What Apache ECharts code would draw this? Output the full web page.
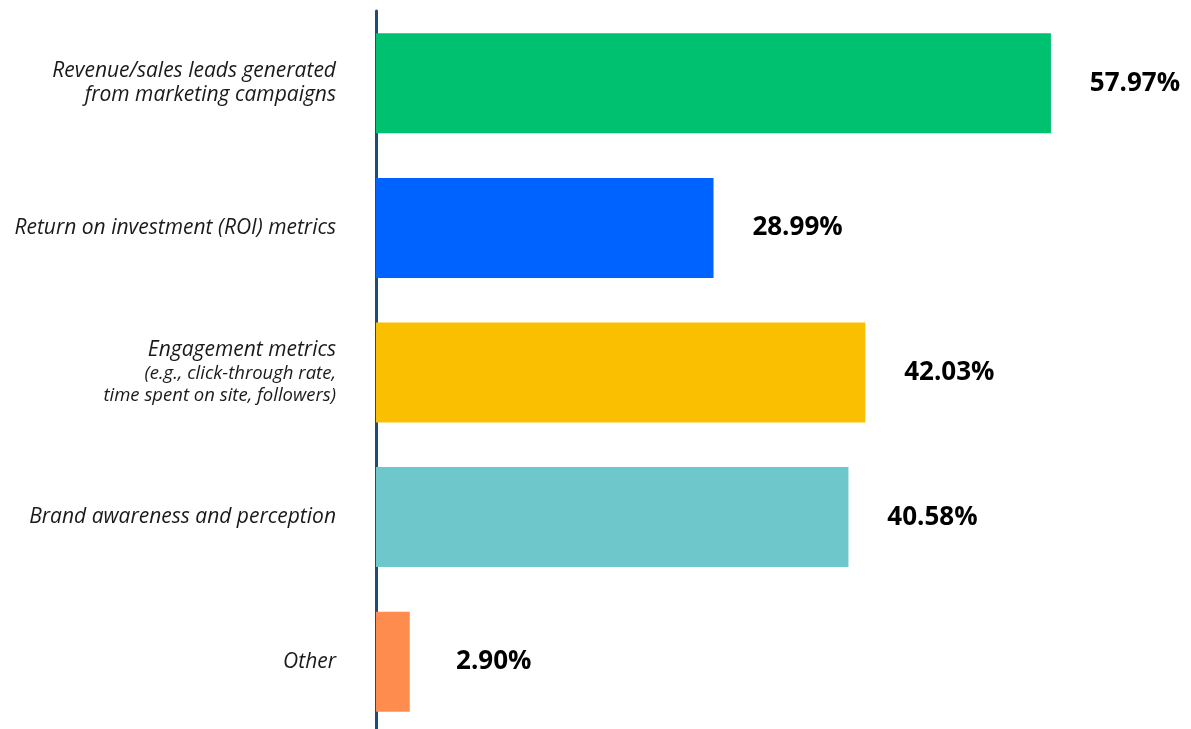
<!DOCTYPE html>
<html>
<head>
<meta charset="utf-8">
<script src="https://cdn.jsdelivr.net/npm/echarts@6/dist/echarts.min.js"></script>
<style>
  html, body { margin: 0; padding: 0; background: #fff; }
  #chart { width: 1191px; height: 729px; }
</style>
</head>
<body>
<div id="chart"></div>
<script>
// Survey answers: how marketing success is measured
const categories = [
  'Revenue/sales leads generated\nfrom marketing campaigns',
  'Return on investment (ROI) metrics',
  '{main|Engagement metrics}\n{sub|(e.g., click-through rate,}\n{sub|time spent on site, followers)}',
  'Brand awareness and perception',
  'Other'
];
const values = [57.97, 28.99, 42.03, 40.58, 2.90];
const barColors = ['#00c170', '#0062ff', '#f9bf00', '#6ec7cb', '#ff8c4f'];

const chart = echarts.init(document.getElementById('chart'));
chart.setOption({
  animation: false,
  grid: { left: 376, width: 815, top: 11, height: 723, containLabel: false, outerBoundsMode: 'none' },
  xAxis: {
    type: 'value',
    min: 0,
    max: 70,
    show: false
  },
  yAxis: {
    type: 'category',
    inverse: true,
    data: categories,
    axisLine: { show: true, lineStyle: { color: '#1f4a7a', width: 3 } },
    axisTick: { show: false },
    axisLabel: {
      margin: 40,
      align: 'right',
      fontFamily: 'Open Sans',
      fontStyle: 'italic',
      fontSize: 21,
      lineHeight: 24,
      color: '#1a1a1a',
      rich: {
        main: { fontFamily: 'Open Sans', fontStyle: 'italic', fontSize: 21, lineHeight: 24, color: '#1a1a1a' },
        sub: { fontFamily: 'Open Sans', fontStyle: 'italic', fontSize: 18.5, lineHeight: 22, color: '#1a1a1a' }
      }
    }
  },
  series: [{
    type: 'bar',
    data: values.map((v, i) => ({ value: v, itemStyle: { color: barColors[i] } })),
    barWidth: 100,
    label: {
      show: true,
      position: 'right',
      distance: 84,
      align: 'center',
      formatter: p => p.value.toFixed(2) + '%',
      fontFamily: 'Open Sans',
      fontWeight: 'bold',
      fontSize: 26,
      color: '#000'
    }
  }]
});
</script>
</body>
</html>
